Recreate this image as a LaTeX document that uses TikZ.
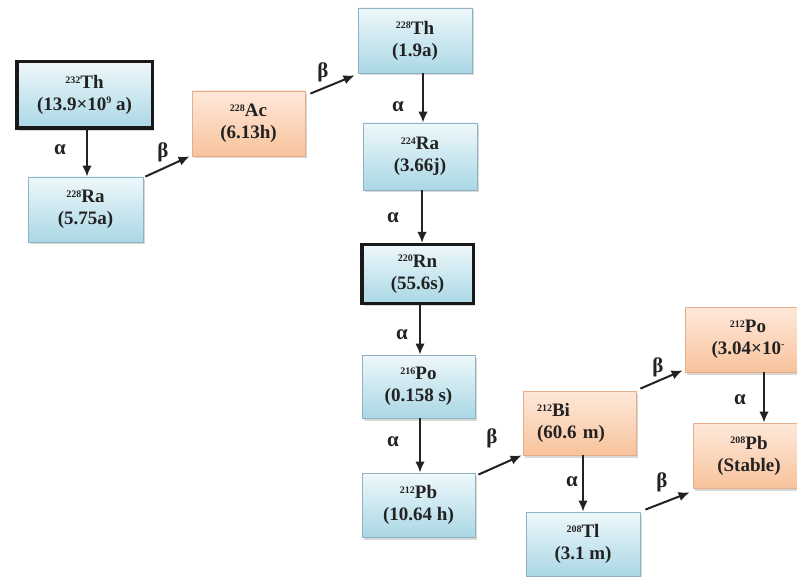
\documentclass[tikz,border=0pt]{standalone}
\usepackage{fontspec}
\setmainfont{Liberation Serif}
\usetikzlibrary{shadows,arrows.meta}

\definecolor{blueTop}{HTML}{EEF8FB}
\definecolor{blueBot}{HTML}{AAD7E5}
\definecolor{blueEdge}{HTML}{8FB3C2}
\definecolor{peachTop}{HTML}{FEE8DA}
\definecolor{peachBot}{HTML}{F8C39C}
\definecolor{peachEdge}{HTML}{E4AE8A}
\definecolor{ink}{HTML}{222222}

% mass number as a small raised prefix
\newcommand\iso[2]{\raisebox{0.6ex}{\fontsize{10}{10}\selectfont #1}#2}
\newcommand\smallexp[1]{\raisebox{0.8ex}{\fontsize{10}{10}\selectfont #1}}

\tikzset{
  box/.style={rectangle, align=center, font=\fontsize{19}{22}\selectfont\bfseries,
    text=ink, inner sep=0pt,
    drop shadow={shadow xshift=2pt, shadow yshift=-2.5pt, opacity=.3}},
  bluebox/.style={box, draw=blueEdge, line width=.8pt, top color=blueTop, bottom color=blueBot},
  peachbox/.style={box, draw=peachEdge, line width=.8pt, top color=peachTop, bottom color=peachBot},
  keybox/.style={bluebox, draw=black!90, line width=3.5pt},
  decay/.style={-{Latex[length=11pt,width=9.5pt]}, line width=2pt, draw=ink},
  lbl/.style={font=\fontsize{21}{21}\selectfont\bfseries, text=ink, inner sep=0pt},
}

\begin{document}
\begin{tikzpicture}[x=1pt,y=-1pt]
\useasboundingbox (0,0) rectangle (797,577);
\fill[white] (0,0) rectangle (797,577);

% nuclides of the thorium series
\node[keybox, minimum width=135.5pt, minimum height=66.5pt] (th232) at (84.5,95)
  {\iso{232}{Th}\\(13.9×10\smallexp{9} a)};
\node[bluebox, minimum width=115pt, minimum height=65pt] (ra228) at (85.5,209.5)
  {\iso{228}{Ra}\\(5.75a)};
\node[peachbox, minimum width=113pt, minimum height=65pt] (ac228) at (248.5,123.5)
  {\iso{228}{Ac}\\(6.13h)};
\node[bluebox, minimum width=114pt, minimum height=65pt] (th228) at (415,40.5)
  {\iso{228}{Th}\\(1.9a)};
\node[bluebox, minimum width=114pt, minimum height=67pt] (ra224) at (420,156.5)
  {\iso{224}{Ra}\\(3.66j)};
\node[keybox, minimum width=111.5pt, minimum height=58.5pt] (rn220) at (417.5,274)
  {\iso{220}{Rn}\\(55.6s)};
\node[bluebox, minimum width=113pt, minimum height=63pt] (po216) at (418.5,386.5)
  {\iso{216}{Po}\\(0.158 s)};
\node[bluebox, minimum width=113pt, minimum height=64pt] (pb212) at (418.5,505)
  {\iso{212}{Pb}\\(10.64 h)};
\node[peachbox, minimum width=113pt, minimum height=64pt, text width=85pt, align=left] (bi212) at (579.5,423)
  {\iso{212}{Bi}\\(60.6 m)};
\node[bluebox, minimum width=114pt, minimum height=64pt] (tl208) at (583,544)
  {\iso{208}{Tl}\\(3.1 m)};
\node[peachbox, minimum width=126pt, minimum height=65pt] (po212) at (748,339.5)
  {\iso{212}{Po}\\(3.04×10\smallexp{-}};
\node[peachbox, minimum width=112pt, minimum height=65pt] (pb208) at (749,455.5)
  {\iso{208}{Pb}\\(Stable)};

% alpha decays
\draw[decay] ([xshift=2.5pt]th232.south) -- ([xshift=2.5pt]th232.south |- ra228.north);
\draw[decay] ([xshift=8pt]th228.south) -- ([xshift=8pt]th228.south |- ra224.north);
\draw[decay] ([xshift=2pt]ra224.south) -- ([xshift=2pt]ra224.south |- rn220.north);
\draw[decay] ([xshift=2.5pt]rn220.south) -- ([xshift=2.5pt]rn220.south |- po216.north);
\draw[decay] ([xshift=1.5pt]po216.south) -- ([xshift=1.5pt]po216.south |- pb212.north);
\draw[decay] ([xshift=3.5pt]bi212.south) -- ([xshift=3.5pt]bi212.south |- tl208.north);
\draw[decay] ([xshift=16pt]po212.south) -- ([xshift=16pt]po212.south |- pb208.north);

% beta decays
\draw[decay] ([shift={(2,0)}]ra228.north east) -- ([shift={(-2,0)}]ac228.south west);
\draw[decay] ([shift={(5,3)}]ac228.north east) -- ([shift={(-3,2)}]th228.south west);
\draw[decay] ([shift={(3,2)}]pb212.north east) -- ([shift={(-1,0)}]bi212.south west);
\draw[decay] ([shift={(4,-2)}]bi212.north east) -- ([shift={(-2,-2)}]po212.south west);
\draw[decay] ([shift={(5,-2)}]tl208.north east) -- ([shift={(-3,4)}]pb208.south west);

% decay labels
\node[lbl] (la1) at (60,150) {α};
\node[lbl] (la2) at (398,107) {α};
\node[lbl] (la3) at (393,218) {α};
\node[lbl] (la4) at (402,335) {α};
\node[lbl] (la5) at (393,442) {α};
\node[lbl] (la6) at (572,482) {α};
\node[lbl] (la7) at (740,400) {α};
\node[lbl] (lb1) at (163,152) {β};
\node[lbl] (lb2) at (323,72) {β};
\node[lbl] (lb3) at (492,438) {β};
\node[lbl] (lb4) at (658,367) {β};
\node[lbl] (lb5) at (662,482) {β};
\end{tikzpicture}
\end{document}
